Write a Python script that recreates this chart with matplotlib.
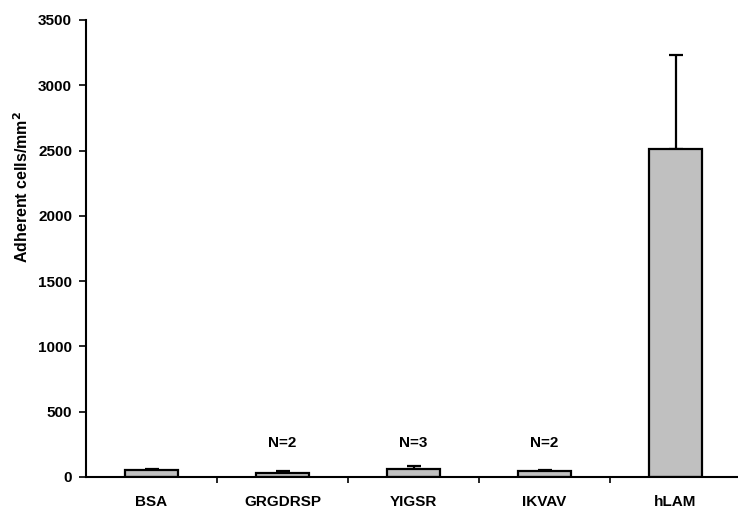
import matplotlib
matplotlib.use("Agg")
import matplotlib.pyplot as plt
import numpy as np

categories = ["BSA", "GRGDRSP", "YIGSR", "IKVAV", "hLAM"]
means = [50, 34, 62, 45, 2510]
errors = [12, 15, 20, 12, 720]
n_labels = ["", "N=2", "N=3", "N=2", ""]
n_label_y = 260
y_ticks = [0, 500, 1000, 1500, 2000, 2500, 3000, 3500]

plt.rcParams["font.family"] = ["Liberation Sans", "DejaVu Sans"]
plt.rcParams["font.weight"] = "bold"

fig = plt.figure(figsize=(7.38, 5.13), dpi=100)
ax = fig.add_axes([86 / 738, 36 / 513, 655 / 738, 457 / 513])

x = np.arange(len(categories))
ax.bar(x, means, width=0.41, color="#c0c0c0", edgecolor="black",
       linewidth=1.6, zorder=2)
ax.errorbar(x, means, yerr=[np.zeros(len(errors)), errors], fmt="none",
            ecolor="black", elinewidth=1.6, capsize=5, capthick=1.6, zorder=1)

for xi, lab in zip(x, n_labels):
    if lab:
        ax.text(xi, n_label_y, lab, ha="center", va="center",
                fontsize=11, fontweight="bold")

ax.set_xlim(-0.5, len(categories) - 0.5)
ax.set_ylim(0, 3500)
ax.set_yticks(y_ticks)
ax.set_yticklabels([str(t) for t in y_ticks], fontsize=11, fontweight="bold")
ax.set_xticks(x)
ax.set_xticklabels(categories, fontsize=11, fontweight="bold")
ax.set_xticks(np.arange(0.5, len(categories) - 0.5, 1.0), minor=True)
ax.tick_params(axis="x", which="major", length=0, pad=13)
ax.tick_params(axis="x", which="minor", length=4, width=1.2, direction="out")
ax.tick_params(axis="y", length=5, width=1.2, direction="out", pad=5)

ax.set_ylabel("Adherent cells/mm$^\\mathbf{2}$", fontsize=11.5,
              fontweight="bold")
ax.yaxis.set_label_coords(-0.084, 0.635)

for side in ("top", "right"):
    ax.spines[side].set_visible(False)
for side in ("left", "bottom"):
    ax.spines[side].set_linewidth(1.5)

fig.savefig("out.png", dpi=100)
